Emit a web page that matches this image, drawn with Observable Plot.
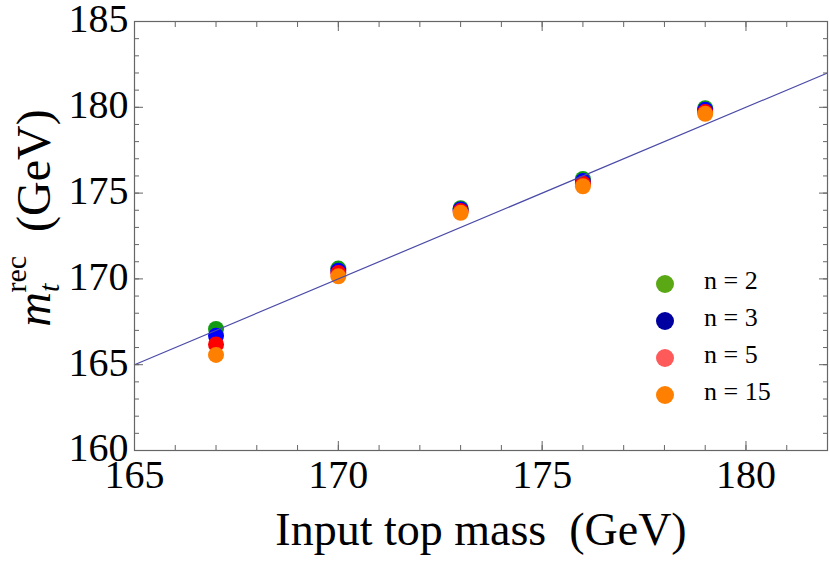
<!DOCTYPE html>
<html>
<head>
<meta charset="utf-8">
<script src="https://cdn.jsdelivr.net/npm/d3@7"></script>
<script src="https://cdn.jsdelivr.net/npm/@observablehq/plot@0.6"></script>
<style>
  html, body { margin: 0; padding: 0; background: #fff; }
  #chart { width: 830px; height: 561px; }
  #chart svg text { font-family: "Liberation Serif", "Times New Roman", serif; }
</style>
</head>
<body>
<div id="chart"></div>
<script>
// ---- data ----
const inputMass = [167, 170, 173, 176, 179];
const n2  = [167.08, 170.60, 174.12, 175.82, 179.95];
const n3  = [166.68, 170.48, 174.05, 175.70, 179.85];
const n5  = [166.18, 170.34, 173.95, 175.55, 179.72];
const n15 = [165.57, 170.15, 173.85, 175.40, 179.62];
const seriesNames = ["n = 2", "n = 3", "n = 5", "n = 15"];
const seriesValues = [n2, n3, n5, n15];
const pointColors  = ["#129a12", "#0000ff", "#ff0000", "#ff8000"];
const legendColors = ["#5aa814", "#0000a0", "#ff5a5a", "#ff8000"];
const xMajor = [165, 170, 175, 180];
const xMinor = d3.range(165, 183, 1);
const yMajor = [160, 165, 170, 175, 180, 185];
const yMinor = d3.range(160, 186, 1);
const xDomain = [165, 182];
const yDomain = [160, 185];
const diagonal = [xDomain[0], xDomain[1]];

const points = [];
seriesValues.forEach((vals, s) => vals.forEach((v, i) => points.push({x: inputMass[i], y: v, s})));

const frameColor = "#666";
const serif = "Liberation Serif, Times New Roman, serif";

const plot = Plot.plot({
  width: 830,
  height: 561,
  marginLeft: 134,
  marginRight: 3,
  marginTop: 21,
  marginBottom: 111,
  style: {fontFamily: serif, background: "#fff", color: "#000"},
  x: {domain: xDomain, label: null},
  y: {domain: yDomain, label: null},
  marks: [
    Plot.dot(points, {x: "x", y: "y", r: 8, fill: d => pointColors[d.s], stroke: "none"}),
    Plot.line(diagonal, {x: d => d, y: d => d, stroke: "#4a4aa8", strokeWidth: 1.2}),
    Plot.axisX({anchor: "bottom", ticks: xMinor, tickSize: -5, text: null, stroke: frameColor}),
    Plot.axisX({anchor: "top", ticks: xMinor, tickSize: -5, text: null, stroke: frameColor}),
    Plot.axisY({anchor: "left", ticks: yMinor, tickSize: -5, text: null, stroke: frameColor}),
    Plot.axisY({anchor: "right", ticks: yMinor, tickSize: -5, text: null, stroke: frameColor}),
    Plot.axisX({anchor: "bottom", ticks: xMajor, tickSize: -9, text: null, stroke: frameColor}),
    Plot.axisX({anchor: "top", ticks: xMajor, tickSize: -9, text: null, stroke: frameColor}),
    Plot.axisY({anchor: "left", ticks: yMajor, tickSize: -9, text: null, stroke: frameColor}),
    Plot.axisY({anchor: "right", ticks: yMajor, tickSize: -9, text: null, stroke: frameColor}),
    Plot.axisX({anchor: "bottom", ticks: xMajor, tickSize: 0, tickPadding: 9, fontSize: 40, fontFamily: serif, fill: "#000", label: null}),
    Plot.axisY({anchor: "left", ticks: yMajor, tickSize: 0, tickPadding: 6, dy: -2, fontSize: 40, fontFamily: serif, fill: "#000", label: null}),
    Plot.frame({stroke: frameColor, strokeWidth: 1.2})
  ]
});

document.getElementById("chart").appendChild(plot);

const svg = d3.select(plot);

// x axis title
svg.append("text")
  .attr("x", 481).attr("y", 545)
  .attr("text-anchor", "middle")
  .attr("font-size", 46)
  .attr("fill", "#000")
  .text("Input top mass  (GeV)");

// y axis title
const yt = svg.append("text")
  .attr("transform", "translate(50,218) rotate(-90)")
  .attr("text-anchor", "middle")
  .attr("font-size", 48)
  .attr("fill", "#000");
yt.append("tspan").attr("font-style", "italic").text("m");
yt.append("tspan").attr("font-style", "italic").attr("font-size", 30).attr("dy", 9).text("t");
yt.append("tspan").attr("font-size", 30).attr("dx", -9).attr("dy", -33).text("rec");
yt.append("tspan").attr("dy", 24).text("\u2002(GeV)");

// legend
const lg = svg.append("g");
seriesNames.forEach((name, i) => {
  const cy = 284 + i * 37;
  lg.append("circle").attr("cx", 665).attr("cy", cy).attr("r", 9).attr("fill", legendColors[i]);
  lg.append("text").attr("x", 704).attr("y", cy + 5)
    .attr("text-anchor", "start")
    .attr("font-size", 26).attr("fill", "#000")
    .text(name);
});

svg.selectAll("text").style("font-family", serif);
</script>
</body>
</html>
